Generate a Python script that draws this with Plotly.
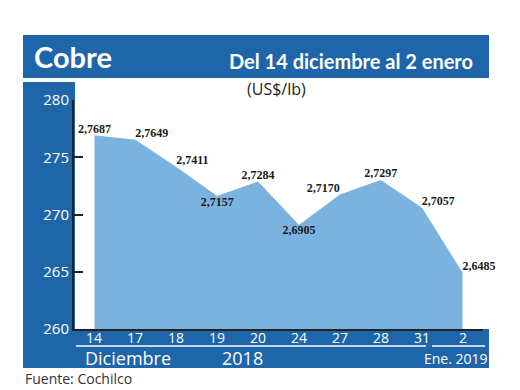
import plotly.graph_objects as go

# ---- data ----
days = ["14", "17", "18", "19", "20", "24", "27", "28", "31", "2"]
prices = [2.7687, 2.7649, 2.7411, 2.7157, 2.7284, 2.6905, 2.7170, 2.7297, 2.7057, 2.6485]
y_ticks = [260, 265, 270, 275, 280]
label_pos = ["top center", "top right", "top right", "bottom center", "top center",
             "bottom center", "top left", "top center", "top right", "top right"]

title_left = "Cobre"
title_right = "Del 14 diciembre al 2 enero"
unit = "(US$/lb)"
month_label = "Diciembre"
year_label = "2018"
jan_label = "Ene. 2019"
source = "Fuente: Cochilco"

BLUE = "#1f65a9"
AREA = "#7ab3e0"

OFF = 8  # page body margin
W, H = 520 - OFF, 390 - OFF
# plot area in window pixels: x 74..483, y 100..329
PX0, PX1, PY0, PY1 = 74, 483, 100, 329
L, T = PX0 - OFF, PY0 - OFF
R = W - (PX1 - OFF)
B = H - (PY1 - OFF)
PW, PH = PX1 - PX0, PY1 - PY0


def fx(px):
    return (px - PX0) / PW


def fy(py):
    return (PY1 - py) / PH


vals = [p * 100 for p in prices]
texts = [f"{p:.4f}".replace(".", ",") for p in prices]

fig = go.Figure()
fig.add_trace(go.Scatter(
    x=days, y=vals, mode="lines+text", fill="tozeroy",
    fillcolor=AREA, line=dict(color=AREA, width=1),
    text=texts, textposition=label_pos,
    textfont=dict(family="Liberation Serif, serif",
                  size=12, color="#1a1a1a", weight="bold"),
    cliponaxis=False, hoverinfo="skip", showlegend=False,
))

shapes = [
    dict(type="rect", xref="paper", yref="paper", x0=fx(23), x1=fx(489), y0=fy(78), y1=fy(35),
         fillcolor=BLUE, line=dict(width=0), layer="below"),
    dict(type="rect", xref="paper", yref="paper", x0=fx(23), x1=fx(75), y0=fy(368), y1=fy(82),
         fillcolor=BLUE, line=dict(width=0), layer="below"),
    dict(type="rect", xref="paper", yref="paper", x0=fx(23), x1=fx(489), y0=fy(368), y1=fy(329),
         fillcolor=BLUE, line=dict(width=0), layer="below"),
    dict(type="line", xref="paper", yref="paper", x0=fx(76), x1=fx(426), y0=fy(346), y1=fy(346),
         line=dict(color="white", width=1.5)),
    dict(type="line", xref="paper", yref="paper", x0=fx(432), x1=fx(485), y0=fy(346), y1=fy(346),
         line=dict(color="white", width=1.5)),
]

ann_font = "Open Sans, sans-serif"
annotations = [
    dict(text=title_left, x=fx(32), y=fy(56), xanchor="left", yanchor="middle",
         font=dict(family="Lato, sans-serif", size=29, color="white", weight="bold")),
    dict(text=title_right, x=fx(475), y=fy(61), xanchor="right", yanchor="middle",
         font=dict(family="Lato, sans-serif", size=20, color="white", weight="bold")),
    dict(text=unit, x=fx(276), y=fy(89), xanchor="center", yanchor="middle",
         font=dict(family=ann_font, size=16, color="#222")),
    dict(text=month_label, x=fx(128), y=fy(358), xanchor="center", yanchor="middle",
         font=dict(family=ann_font, size=18, color="white")),
    dict(text=year_label, x=fx(242), y=fy(358), xanchor="center", yanchor="middle",
         font=dict(family=ann_font, size=18, color="white")),
    dict(text=jan_label, x=fx(456), y=fy(358), xanchor="center", yanchor="middle",
         font=dict(family=ann_font, size=14, color="white")),
    dict(text=source, x=fx(23), y=fy(378), xanchor="left", yanchor="middle",
         font=dict(family=ann_font, size=14, color="#333")),
]
for a in annotations:
    a.update(xref="paper", yref="paper", showarrow=False)

# x tick labels placed on the category axis (by category index)
for i, d in enumerate(days):
    annotations.append(dict(text=d, x=i, xref="x", y=fy(337), yref="paper",
                            xanchor="center", yanchor="middle", showarrow=False,
                            font=dict(family=ann_font, size=14, color="white")))

fig.update_layout(
    width=W, height=H,
    margin=dict(l=L, r=R, t=T, b=B, pad=0),
    paper_bgcolor="white", plot_bgcolor="rgba(0,0,0,0)",
    shapes=shapes, annotations=annotations,
    xaxis=dict(type="category", range=[-0.5, len(days) - 0.5], showgrid=False,
               showline=True, linecolor="#222", linewidth=2, ticks="",
               showticklabels=False, zeroline=False),
    yaxis=dict(range=[y_ticks[0], y_ticks[-1]], tickvals=y_ticks, showgrid=False,
               showline=True, linecolor="#222", linewidth=2, ticks="inside",
               ticklen=9, tickwidth=2, tickcolor="#222", zeroline=False,
               tickfont=dict(family=ann_font, size=15, color="white")),
)

fig.write_html("out.html")
